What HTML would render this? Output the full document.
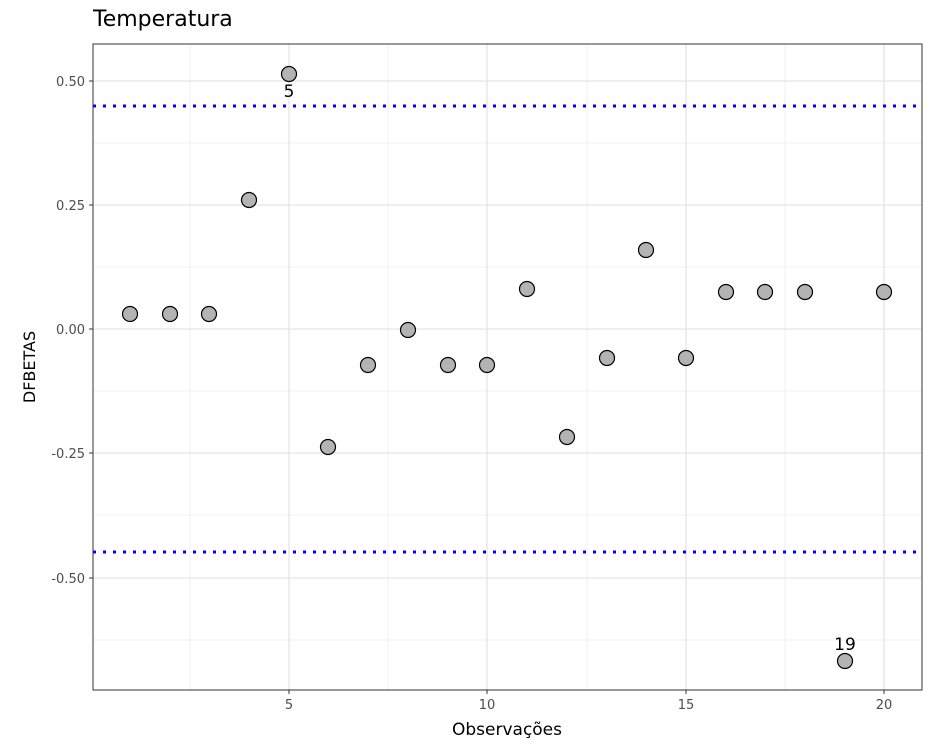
<!DOCTYPE html>
<html><head><meta charset="utf-8"><style>body{margin:0;background:#fff}svg{display:block}</style></head><body>
<svg width="943" height="746" xmlns="http://www.w3.org/2000/svg" font-family="DejaVu Sans, Liberation Sans, sans-serif">
<rect width="943" height="746" fill="#fff"/>
<g stroke="#f2f2f2" stroke-width="1">
<line x1="190" y1="44" x2="190" y2="690"/><line x1="388" y1="44" x2="388" y2="690"/><line x1="587" y1="44" x2="587" y2="690"/><line x1="785" y1="44" x2="785" y2="690"/>
<line x1="93" y1="143" x2="922" y2="143"/><line x1="93" y1="267" x2="922" y2="267"/><line x1="93" y1="391" x2="922" y2="391"/><line x1="93" y1="515" x2="922" y2="515"/><line x1="93" y1="640" x2="922" y2="640"/>
</g>
<g stroke="#e5e5e5" stroke-width="1.3">
<line x1="289" y1="44" x2="289" y2="690"/><line x1="487" y1="44" x2="487" y2="690"/><line x1="686" y1="44" x2="686" y2="690"/><line x1="884" y1="44" x2="884" y2="690"/>
<line x1="93" y1="81" x2="922" y2="81"/><line x1="93" y1="205" x2="922" y2="205"/><line x1="93" y1="329" x2="922" y2="329"/><line x1="93" y1="453" x2="922" y2="453"/><line x1="93" y1="578" x2="922" y2="578"/>
</g>
<g stroke="#0000ff" stroke-width="3" stroke-dasharray="3,7">
<line x1="93" y1="106" x2="922" y2="106"/><line x1="93" y1="552" x2="922" y2="552"/>
</g>
<g fill="#b3b3b3" stroke="#000" stroke-width="1.2">
<circle cx="130" cy="314" r="7.5"/><circle cx="170" cy="314" r="7.5"/><circle cx="209" cy="314" r="7.5"/><circle cx="249" cy="200" r="7.5"/><circle cx="289" cy="74" r="7.5"/>
<circle cx="328" cy="447" r="7.5"/><circle cx="368" cy="365" r="7.5"/><circle cx="408" cy="330" r="7.5"/><circle cx="448" cy="365" r="7.5"/><circle cx="487" cy="365" r="7.5"/>
<circle cx="527" cy="289" r="7.5"/><circle cx="567" cy="437" r="7.5"/><circle cx="607" cy="358" r="7.5"/><circle cx="646" cy="250" r="7.5"/><circle cx="686" cy="358" r="7.5"/>
<circle cx="726" cy="292" r="7.5"/><circle cx="765" cy="292" r="7.5"/><circle cx="805" cy="292" r="7.5"/><circle cx="845" cy="661" r="7.5"/><circle cx="884" cy="292" r="7.5"/>
</g>
<text x="289" y="97" font-size="17" text-anchor="middle" fill="#000">5</text>
<text x="845" y="650" font-size="17" text-anchor="middle" fill="#000">19</text>
<rect x="93" y="44" width="829" height="646" fill="none" stroke="#333" stroke-width="1"/>
<g stroke="#333"><line x1="289" y1="690" x2="289" y2="694"/><line x1="487" y1="690" x2="487" y2="694"/><line x1="686" y1="690" x2="686" y2="694"/><line x1="884" y1="690" x2="884" y2="694"/>
<line x1="89" y1="81" x2="93" y2="81"/><line x1="89" y1="205" x2="93" y2="205"/><line x1="89" y1="329" x2="93" y2="329"/><line x1="89" y1="453" x2="93" y2="453"/><line x1="89" y1="578" x2="93" y2="578"/></g>
<g font-size="13" fill="#4d4d4d" text-anchor="middle"><text x="289" y="709">5</text><text x="487" y="709">10</text><text x="686" y="709">15</text><text x="884" y="709">20</text></g>
<g font-size="13" fill="#4d4d4d" text-anchor="end"><text x="85" y="86">0.50</text><text x="85" y="210">0.25</text><text x="85" y="334">0.00</text><text x="85" y="458">-0.25</text><text x="85" y="583">-0.50</text></g>
<text x="507" y="735" font-size="17" text-anchor="middle" fill="#000">Observações</text>
<text transform="translate(35,367) rotate(-90)" font-size="16" text-anchor="middle" fill="#000">DFBETAS</text>
<text x="93" y="26" font-size="22" fill="#000">Temperatura</text>
</svg>
</body></html>
